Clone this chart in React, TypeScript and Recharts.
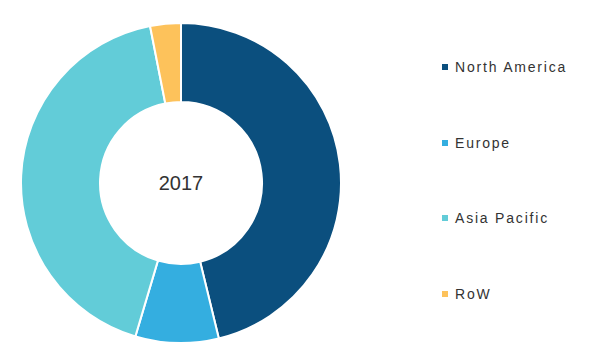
import React from 'react';
import { PieChart, Pie, Cell, Legend } from 'recharts';

const regions = ['North America', 'Europe', 'Asia Pacific', 'RoW'];
const shares = [46.2, 8.4, 42.3, 3.1];
const colors = ['#0B4F7E', '#34AEE0', '#62CCD8', '#FDC25B'];
const yearLabel = '2017';

const data = regions.map((name, i) => ({ name, value: shares[i] }));

const font = '"Liberation Sans", Arial, sans-serif';

const LegendList = () => (
    <div style={{ fontFamily: font }}>
        {regions.map((name, i) => (
            <div key={name} style={{ display: 'flex', alignItems: 'center', height: 22, marginBottom: i < regions.length - 1 ? 53.5 : 0 }}>
                <span style={{ width: 6, height: 6, background: colors[i], display: 'inline-block', marginRight: 7 }} />
                <span style={{ fontSize: 14, letterSpacing: 1.8, color: '#333' }}>{name}</span>
            </div>
        ))}
    </div>
);

export default function App() {
    return (
        <div style={{ position: 'absolute', left: 0, top: 0, width: 600, height: 364, background: '#fff' }}>
            <PieChart width={600} height={364} margin={{ top: 0, right: 0, bottom: 0, left: 0 }}>
                <Pie
                    data={data}
                    dataKey="value"
                    nameKey="name"
                    cx={181}
                    cy={183}
                    innerRadius={81}
                    outerRadius={160}
                    startAngle={90}
                    endAngle={-270}
                    stroke="#fff"
                    strokeWidth={2}
                    isAnimationActive={false}
                >
                    {data.map((d, i) => (
                        <Cell key={d.name} fill={colors[i]} />
                    ))}
                </Pie>
                <Legend
                    content={<LegendList />}
                    layout="vertical"
                    wrapperStyle={{ position: 'absolute', left: 442, top: 56, width: 158 }}
                />
            </PieChart>
            {/* year in the hole */}
            <div
                style={{
                    position: 'absolute', left: 131, top: 171, width: 100, textAlign: 'center',
                    fontFamily: font, fontSize: 20, color: '#333', lineHeight: '24px',
                }}
            >
                {yearLabel}
            </div>
        </div>
    );
}
